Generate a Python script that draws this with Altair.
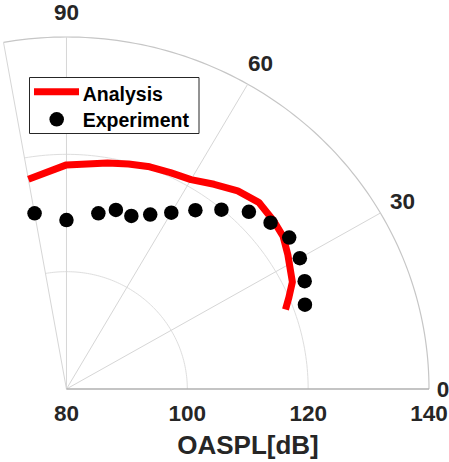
import altair as alt
import pandas as pd

# ---------------- data ----------------
analysis_angle = [100, 90, 80, 75, 70, 65, 60, 55, 50, 45, 40, 36, 32, 26, 23, 20.5]
analysis_oaspl = [116.3, 118.2, 119.1, 119.7, 120.3, 120.7, 121.2, 122.6, 124.1,
                  125.0, 124.7, 124.3, 123.2, 121.6, 120.0, 118.7]
exp_angle = [100, 90, 80, 75, 70, 65, 60, 55, 50, 45, 40, 35, 30, 25, 20]
exp_oaspl = [110.4, 108.8, 110.4, 111.6, 111.4, 112.8, 114.7, 117.2, 119.9,
             122.7, 124.1, 125.0, 124.6, 123.5, 122.0]
angle_ticks = [0, 30, 60, 90]
radial_ticks = [80, 100, 120, 140]
series_names = ["Analysis", "Experiment"]
axis_title = "OASPL[dB]"

R_MIN, R_MAX, THETA_MAX = 80, 140, 100
FONT = "Liberation Sans"
TXT = "#262626"

xs = alt.Scale(domain=[-11, 60], nice=False, zero=False)
ys = alt.Scale(domain=[0, 60], nice=False, zero=False)

def polar(chart, r="r", a="a", xo="X", yo="Y"):
    return chart.transform_calculate(
        **{xo: f"(datum.{r} - {R_MIN}) * cos(datum.{a} * PI / 180)",
           yo: f"(datum.{r} - {R_MIN}) * sin(datum.{a} * PI / 180)"})

# ---------------- grid ----------------
arc_angles = list(range(0, THETA_MAX + 1))
inner_arcs = pd.DataFrame([{"r": r, "a": a} for r in radial_ticks[1:-1] for a in arc_angles])
outer_arc = pd.DataFrame([{"r": R_MAX, "a": a} for a in arc_angles])

inner = polar(alt.Chart(inner_arcs)).mark_line(color="#dedede", strokeWidth=1).encode(
    x=alt.X("X:Q", scale=xs, axis=None), y=alt.Y("Y:Q", scale=ys, axis=None),
    detail="r:N", order="a:Q")
outer = polar(alt.Chart(outer_arc)).mark_line(color="#c6c6c6", strokeWidth=1.2).encode(
    x=alt.X("X:Q", scale=xs, axis=None), y=alt.Y("Y:Q", scale=ys, axis=None), order="a:Q")

spoke_df = pd.DataFrame({"a": angle_ticks[1:] + [THETA_MAX]})
spokes = alt.Chart(spoke_df).transform_calculate(
    r1=str(R_MAX)
).transform_calculate(
    X0="0", Y0="0",
    X1=f"(datum.r1 - {R_MIN}) * cos(datum.a * PI / 180)",
    Y1=f"(datum.r1 - {R_MIN}) * sin(datum.a * PI / 180)",
).mark_rule(color="#d6d6d6", strokeWidth=1).encode(
    x=alt.X("X0:Q", scale=xs, axis=None), y=alt.Y("Y0:Q", scale=ys, axis=None),
    x2="X1:Q", y2="Y1:Q")

axis_df = pd.DataFrame({"r": [R_MIN], "r2": [R_MAX]})
axis_line = alt.Chart(axis_df).transform_calculate(
    X0=f"datum.r - {R_MIN}", X1=f"datum.r2 - {R_MIN}", Y0="0"
).mark_rule(color="#b0b0b0", strokeWidth=1.6).encode(
    x=alt.X("X0:Q", scale=xs, axis=None), x2="X1:Q", y=alt.Y("Y0:Q", scale=ys, axis=None))

# ---------------- data marks ----------------
ana_df = pd.DataFrame({"a": analysis_angle, "r": analysis_oaspl,
                       "i": list(range(len(analysis_angle)))})
exp_df = pd.DataFrame({"a": exp_angle, "r": exp_oaspl})

ana = polar(alt.Chart(ana_df)).mark_line(
    color="#ff0000", strokeWidth=7, strokeJoin="round", strokeCap="butt").encode(
    x=alt.X("X:Q", scale=xs, axis=None), y=alt.Y("Y:Q", scale=ys, axis=None), order="i:Q")

exp = polar(alt.Chart(exp_df)).mark_circle(color="black", opacity=1, size=210).encode(
    x=alt.X("X:Q", scale=xs, axis=None), y=alt.Y("Y:Q", scale=ys, axis=None))

# ---------------- labels ----------------
ang_lab = alt.Chart(pd.DataFrame({"a": angle_ticks})).transform_calculate(
    lr=f"datum.a == 0 ? {R_MIN} + 62.3 : {R_MIN} + 64.2",
    lab="'' + datum.a"
).transform_calculate(
    X="(datum.lr - %d) * cos(datum.a * PI / 180)" % R_MIN,
    Y="(datum.lr - %d) * sin(datum.a * PI / 180)" % R_MIN,
).mark_text(font=FONT, fontSize=22.5, fontWeight="bold", color=TXT,
            align="center", baseline="middle", dy=1).encode(
    x=alt.X("X:Q", scale=xs, axis=None), y=alt.Y("Y:Q", scale=ys, axis=None), text="lab:N")

rad_lab = alt.Chart(pd.DataFrame({"r": radial_ticks})).transform_calculate(
    X=f"datum.r - {R_MIN}", Y="0", lab="'' + datum.r"
).mark_text(font=FONT, fontSize=22.5, fontWeight="bold", color=TXT,
            align="center", baseline="middle", dy=25).encode(
    x=alt.X("X:Q", scale=xs, axis=None), y=alt.Y("Y:Q", scale=ys, axis=None), text="lab:N")

title = alt.Chart(pd.DataFrame({"t": [axis_title]})).mark_text(
    font=FONT, fontSize=26, fontWeight="bold", color=TXT, align="center", baseline="middle"
).encode(x=alt.value(248), y=alt.value(408.5), text="t:N")

# ---------------- legend ----------------
leg_box = alt.Chart(pd.DataFrame({"k": [0]})).mark_rect(
    fill="white", stroke="#262626", strokeWidth=1).encode(
    x=alt.value(29.5), x2=alt.value(199), y=alt.value(40.5), y2=alt.value(96.5))
leg_line = alt.Chart(pd.DataFrame({"k": [0]})).mark_rule(
    color="#ff0000", strokeWidth=7).encode(
    x=alt.value(34), x2=alt.value(79), y=alt.value(54.7))
leg_dot = alt.Chart(pd.DataFrame({"k": [0]})).mark_circle(
    color="black", opacity=1, size=210).encode(x=alt.value(56.7), y=alt.value(82.3))
leg_t1 = alt.Chart(pd.DataFrame({"t": [series_names[0]]})).mark_text(
    font=FONT, fontSize=19.5, fontWeight="bold", color="black", align="left", baseline="middle"
).encode(x=alt.value(82.7), y=alt.value(57.5), text="t:N")
leg_t2 = alt.Chart(pd.DataFrame({"t": [series_names[1]]})).mark_text(
    font=FONT, fontSize=19.5, fontWeight="bold", color="black", align="left", baseline="middle"
).encode(x=alt.value(82.7), y=alt.value(83.5), text="t:N")

chart = alt.layer(
    inner, outer, spokes, axis_line, ana, exp, ang_lab, rad_lab, title,
    leg_box, leg_line, leg_dot, leg_t1, leg_t2
).properties(
    width=429, height=352,
    padding={"left": 0, "top": 37, "right": 20, "bottom": 73},
    autosize=alt.AutoSizeParams(type="none"),
    background="white",
).configure_view(stroke=None)

chart.save("out.html", embed_options={"renderer": "svg", "actions": False})
